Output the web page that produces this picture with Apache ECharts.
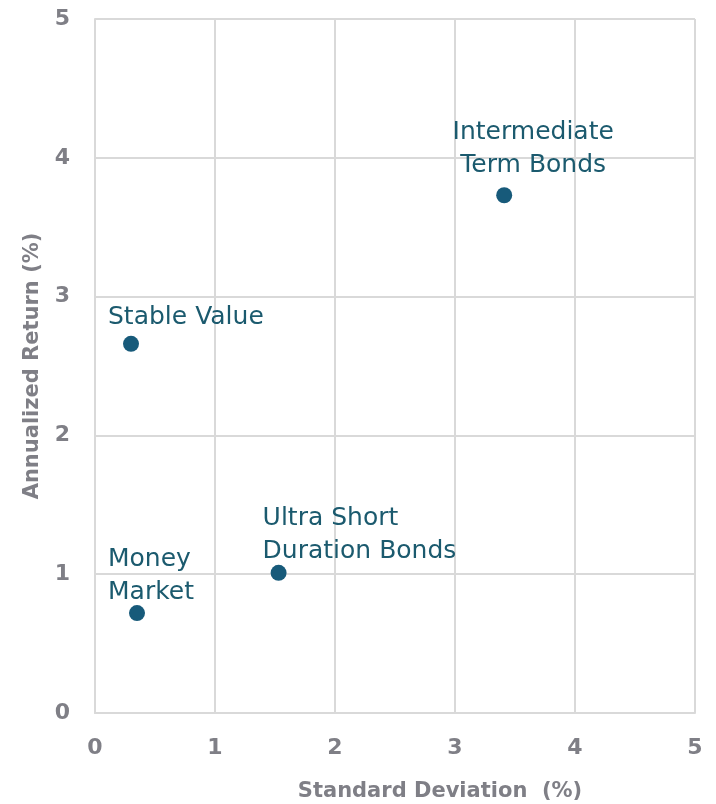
<!DOCTYPE html>
<html>
<head>
<meta charset="utf-8">
<script src="https://cdn.jsdelivr.net/npm/echarts@6/dist/echarts.min.js"></script>
<style>
  html, body { margin: 0; padding: 0; background: #fff; }
  #main { width: 716px; height: 804px; }
</style>
</head>
<body>
<div id="main"></div>
<script>
var myChart = echarts.init(document.getElementById("main"));

var names = ["Stable Value", "Money\nMarket", "Ultra Short\nDuration Bonds", "Intermediate\nTerm Bonds"];
var stdDev = [0.30, 0.35, 1.53, 3.41];
var annReturn = [2.66, 0.72, 1.01, 3.73];

// where each label sits relative to its point
var labelLayout = {
  "Stable Value": { offset: [-23, -26], align: 'left' },
  "Money\nMarket": { offset: [-29, -37], align: 'left' },
  "Ultra Short\nDuration Bonds": { offset: [-16, -38], align: 'left' },
  "Intermediate\nTerm Bonds": { offset: [29, -46], align: 'center' }
};

var points = names.map(function (n, i) {
  var l = labelLayout[n];
  return {
    name: n,
    value: [stdDev[i], annReturn[i]],
    label: { offset: l.offset, align: l.align }
  };
});

var gray = '#7f7f86';
var gridColor = '#d9d9d9';

var option = {
  grid: { left: 95, right: 21, top: 19, bottom: 91, outerBoundsMode: 'none' },
  xAxis: {
    type: 'value',
    min: 0, max: 5, interval: 1,
    name: 'Standard Deviation  (%)',
    nameLocation: 'middle',
    nameGap: 68,
    nameTextStyle: { color: gray, fontSize: 21, fontWeight: 'bold', fontFamily: 'DejaVu Sans', padding: [0, 0, 0, 90] },
    axisLine: { lineStyle: { color: gridColor, width: 2 } },
    axisTick: { show: false },
    axisLabel: { color: gray, fontSize: 22, fontWeight: 'bold', fontFamily: 'DejaVu Sans', margin: 24 },
    splitLine: { show: true, lineStyle: { color: gridColor, width: 2 } }
  },
  yAxis: {
    type: 'value',
    min: 0, max: 5, interval: 1,
    name: 'Annualized Return (%)',
    nameLocation: 'middle',
    nameGap: 52,
    nameTextStyle: { color: gray, fontSize: 21, fontWeight: 'bold', fontFamily: 'DejaVu Sans' },
    axisLine: { show: true, lineStyle: { color: gridColor, width: 2 } },
    axisTick: { show: false },
    axisLabel: { color: gray, fontSize: 22, fontWeight: 'bold', fontFamily: 'DejaVu Sans', margin: 25 },
    splitLine: { show: true, lineStyle: { color: gridColor, width: 2 } }
  },
  series: [{
    type: 'scatter',
    symbolSize: 16,
    itemStyle: { color: '#175a7a', opacity: 1 },
    label: {
      show: true,
      position: 'inside',
      formatter: '{b}',
      color: '#1b5a6e',
      fontSize: 25,
      lineHeight: 33,
      fontFamily: 'DejaVu Sans'
    },
    data: points
  }]
};
myChart.setOption(option);
</script>
</body>
</html>
